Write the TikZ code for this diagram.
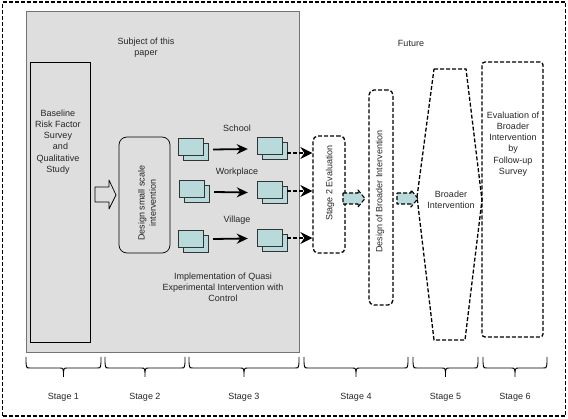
\documentclass[tikz,border=0pt]{standalone}
\usepackage{fontspec}
\setmainfont{Liberation Sans}
\usetikzlibrary{arrows.meta,shadows,calc}
\definecolor{sq}{RGB}{184,218,218}
\definecolor{shade}{RGB}{222,222,222}
\newcommand{\stagebrace}[3]{%
  \draw[line width=0.9pt] (#1,357) .. controls (#1,368) .. (#1+4,368) -- ({(#1+#2)/2-4},368)
    .. controls ({(#1+#2)/2},368) .. ({(#1+#2)/2},377)
    .. controls ({(#1+#2)/2},368) .. ({(#1+#2)/2+4},368) -- (#2-4,368)
    .. controls (#2,368) .. (#2,357);
  \node[txt] (st#3) at ({(#1+#2)/2},397) {Stage #3};}
\begin{document}
\begin{tikzpicture}[x=1pt,y=-1pt,
  font=\fontsize{9}{11.2}\selectfont,
  txt/.style={align=center, inner sep=0pt, text=black!85},
  dline/.style={draw, line width=1.3pt, dash pattern=on 4pt off 2pt},
  dbox/.style={dline, rounded corners=5pt, inner sep=0pt},
  sqbox/.style={draw=black!80, fill=sq, minimum width=25pt, minimum height=17pt, inner sep=0pt,
    copy shadow={shadow xshift=5pt, shadow yshift=-5pt, fill=sq, draw=black!80}},
  solidarr/.style={line width=1.8pt, -{Stealth[length=11pt,width=10pt]}},
  dasharr/.style={line width=1.3pt, dash pattern=on 4pt off 2pt, -{Stealth[length=12pt,width=12pt]}},
  blockarr/.style={line width=0.7pt, line join=round}
]
\useasboundingbox (0,0) rectangle (568,419);
% outer frame
\node[dline, line width=1.6pt, minimum width=563, minimum height=414, inner sep=0pt] (frame) at (284,209) {};
% shaded subject box
\node[fill=shade, draw=black!55, line width=0.7pt, minimum width=273, minimum height=341, inner sep=0pt] (sub) at (162.5,181.5) {};
\node[txt] (subj) at (146,48) {Subject of this\\paper};
\node[txt] (fut) at (411,43) {Future};
% baseline
\node[draw, line width=0.7pt, minimum width=60, minimum height=280, inner sep=0pt] (base) at (60,202) {};
\node[txt] (basetxt) at (58,142) {Baseline\\Risk Factor\\Survey\\\ \ and\\Qualitative\\Study};
% hollow arrow
\draw[blockarr] (95,187) coordinate (ha) -- (109,187) -- (109,180) -- (116,195) coordinate (hb) -- (109,209) -- (109,202) -- (95,202) -- cycle;
% design small scale
\node[draw, line width=0.7pt, rounded corners=8pt, minimum width=51, minimum height=116, inner sep=0pt] (design) at (144.5,195) {};
\node[txt, rotate=90] (designtxt) at (147,203) {Design small scale\\intervention};
% squares
\node[sqbox] (l1) at (190.5,146.5) {};
\node[sqbox] (l2) at (191.5,189) {};
\node[sqbox] (l3) at (190.5,238.5) {};
\node[sqbox] (r1) at (269.5,146) {};
\node[sqbox] (r2) at (269.5,189.5) {};
\node[sqbox] (r3) at (269.5,238) {};
\node[txt] (school) at (237,128) {School};
\node[txt] (work) at (237,172) {Workplace};
\node[txt] (vil) at (237,220) {Village};
\draw[solidarr] ($(l1.east)+(10,3)$) -- ($(r1.west)+(-9,3)$);
\draw[solidarr] ($(l2.east)+(10,3)$) -- ($(r2.west)+(-9,3)$);
\draw[solidarr] ($(l3.east)+(10,0.5)$) -- ($(r3.west)+(-9,0.5)$);
\node[txt] (impl) at (223,287) {Implementation of Quasi\\Experimental Intervention with\\Control};
% stage 2 evaluation
\node[dbox, minimum width=32, minimum height=117] (s2) at (329,194.5) {};
\node[txt, rotate=90] (s2txt) at (330,183) {Stage 2 Evaluation};
\draw[dasharr] ($(r1.east)+(5,7)$) -- (s2.west |- {$(r1.east)+(5,7)$});
\draw[dasharr] ($(r2.east)+(5,1.5)$) -- (s2.west |- {$(r2.east)+(5,1.5)$});
\draw[dasharr] ($(r3.east)+(5,0)$) -- (s2.west |- {$(r3.east)+(5,0)$});
% design of broader intervention
\node[dbox, minimum width=24, minimum height=215] (dbi) at (381,197.5) {};
\node[txt, rotate=90] (dbitxt) at (380,191.5) {Design of Broader Intervention};
% broader intervention hexagon
\draw[dline] (434,69) coordinate (h1) -- (466,69) -- (482,200) coordinate (hr) -- (465,340) -- (434,340) -- (417,197) coordinate (hl) -- cycle;
\node[txt] (bi) at (451,200) {Broader\\Intervention};
% teal block arrows
\draw[dline, line width=1.1pt, fill=sq, line join=round] (343,193) coordinate (ta) -- (358,193) -- (358,190) -- (365,198.5) coordinate (tb) -- (358,207) -- (358,204) -- (343,204) -- cycle;
\draw[dline, line width=1.1pt, fill=sq, line join=round] (397,193) coordinate (tc) -- (411,193) -- (411,190) -- (418,198.5) coordinate (td) -- (411,207) -- (411,204) -- (397,204) -- cycle;
% evaluation box
\node[dbox, rounded corners=3pt, minimum width=61, minimum height=275] (eval) at (512.5,199.5) {};
\node[txt] (evaltxt) at (513,144) {Evaluation of\\Broader\\Intervention\\by\\Follow-up\\Survey};
% braces
\stagebrace{26}{101}{1}
\stagebrace{105}{185}{2}
\stagebrace{189}{299}{3}
\stagebrace{304}{408}{4}
\stagebrace{413}{478}{5}
\stagebrace{483}{547}{6}
\end{tikzpicture}
\end{document}
